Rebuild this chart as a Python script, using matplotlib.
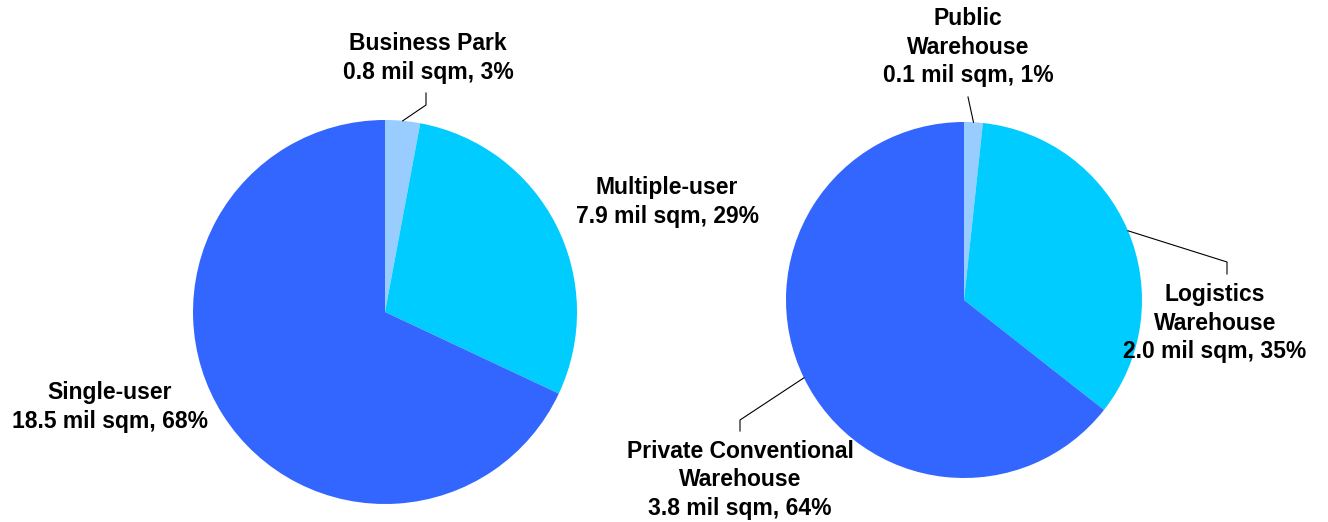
import matplotlib.pyplot as plt
import numpy as np

plt.rcParams['font.family'] = ['Liberation Sans', 'DejaVu Sans']

# left pie: industrial space by type
left_names = ["Business Park", "Multiple-user", "Single-user"]
left_sqm = [0.8, 7.9, 18.5]
left_pct = [3, 29, 68]

# right pie: warehouse space by type
right_names = ["Public\nWarehouse", "Logistics\nWarehouse", "Private Conventional\nWarehouse"]
right_sqm = [0.1, 2.0, 3.8]
right_pct = [1, 35, 64]

colors = ["#99CCFF", "#00CCFF", "#3366FF"]

W, H = 1328, 522
fig = plt.figure(figsize=(W / 100, H / 100), dpi=100)
ax = fig.add_axes([0, 0, 1, 1])


def draw_pie(values, center, radius):
    # y axis is flipped, so counterclock=True runs clockwise on screen
    wedges, _ = ax.pie(values, colors=colors, startangle=-90, counterclock=True,
                       center=center, radius=radius, frame=True,
                       wedgeprops=dict(linewidth=0))
    return wedges


def edge_point(w):
    ang = np.deg2rad((w.theta1 + w.theta2) / 2)
    return (w.center[0] + w.r * np.cos(ang), w.center[1] + w.r * np.sin(ang))


def label(name, sqm, pct, xy):
    ax.text(xy[0], xy[1], f"{name}\n{sqm:.1f} mil sqm, {pct}%", ha='center', va='center',
            fontsize=16.5, fontweight='bold', linespacing=1.3)


def leader(w, *pts):
    p = edge_point(w)
    xs = [p[0]] + [q[0] for q in pts]
    ys = [p[1]] + [q[1] for q in pts]
    ax.plot(xs, ys, color='black', lw=0.8)


lw = draw_pie(left_sqm, (385, 312), 192)
rw = draw_pie(right_sqm, (964, 300), 178)
ax.set_xlim(0, W)
ax.set_ylim(H, 0)
ax.set_aspect('equal')
ax.axis('off')

# left labels
label(left_names[0], left_sqm[0], left_pct[0], (428, 58))
leader(lw[0], (426, 105), (426, 93))
label(left_names[1], left_sqm[1], left_pct[1], (667, 202))
label(left_names[2], left_sqm[2], left_pct[2], (110, 407))

# right labels
label(right_names[0], right_sqm[0], right_pct[0], (968, 47))
leader(rw[0], (968, 97))
label(right_names[1], right_sqm[1], right_pct[1], (1215, 323))
leader(rw[1], (1227, 262), (1227, 274))
label(right_names[2], right_sqm[2], right_pct[2], (740, 480))
leader(rw[2], (740, 420), (740, 431))

plt.savefig("out.png", dpi=100)
plt.close()
